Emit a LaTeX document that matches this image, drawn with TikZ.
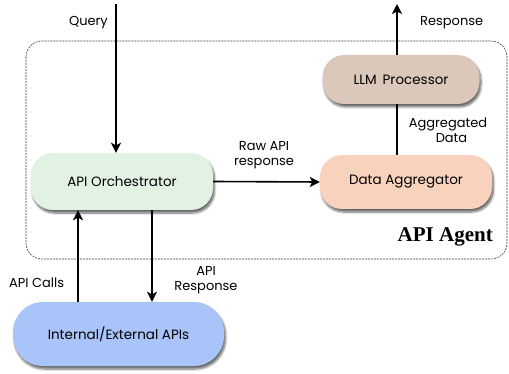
\documentclass[tikz,border=0pt]{standalone}
\usepackage{fontspec}
\setmainfont{Poppins}
\newfontfamily\agentfont{Liberation Serif}
\usetikzlibrary{arrows.meta,shadows.blur}
\definecolor{llmc}{HTML}{DCC8BA}
\definecolor{aggc}{HTML}{F8D2BC}
\definecolor{orchc}{HTML}{E2F2E2}
\definecolor{apic}{HTML}{A9C4F8}
\tikzset{
  pill/.style={rounded corners=22pt, minimum height=#1, inner sep=0pt, font=\fontsize{13.5}{15}\selectfont,
    blur shadow={shadow xshift=1.5pt, shadow yshift=-3pt, shadow blur steps=6, shadow opacity=60}},
  conn/.style={line width=1.6pt},
  arr/.style={conn, -{Stealth[length=10pt,width=10pt,inset=2.5pt]}},
  lbl/.style={font=\fontsize{13}{15.5}\selectfont, align=center, inner sep=0pt},
}
\begin{document}
\begin{tikzpicture}[x=1pt,y=-1pt]
\useasboundingbox (0,0) rectangle (509,374);
\draw[dash pattern=on 2pt off 1pt, line width=0.6pt, rounded corners=16pt, black!75] (26,41) rectangle (507,259);
\node[pill=49pt, minimum width=157pt, fill=llmc] (llm) at (401,79.5) {LLM\, Processor};
\node[pill=54pt, minimum width=172pt, fill=aggc] (agg) at (406,182) {Data Aggregator};
\node[pill=57pt, minimum width=182pt, fill=orchc] (orch) at (122,181.5) {API Orchestrator};
\node[pill=64pt, minimum width=211pt, rounded corners=30pt, fill=apic] (apis) at (118.5,334) {Internal/External APIs};
\coordinate (qtop) at (116,4);
\coordinate (rtop) at (397,4);
\draw[arr] (qtop) -- (qtop |- orch.north);
\draw[arr] (llm.north -| rtop) -- (rtop);
\draw[conn] (agg.north -| rtop) -- (llm.south -| rtop);
\draw[arr] (orch.east) -- (agg.west);
\draw[arr] (apis.north -| 78,0) -- (orch.south -| 78,0);
\draw[arr] (orch.south -| 152,0) -- (apis.north -| 152,0);
\node[lbl, anchor=east] (lq) at (108,23) {Query};
\node[lbl, anchor=west] (lr) at (420,23) {Response};
\node[lbl] (la) at (448,130) {Aggregated\\\hspace*{7pt}Data};
\node[lbl] (lraw) at (264,155) {Raw API\\response};
\node[lbl, anchor=west] (lc) at (9,283) {API Calls};
\node[lbl] (lresp) at (206,280) {API\\Response};
\node[font=\agentfont\bfseries\fontsize{21}{24}\selectfont, anchor=east, inner sep=0pt] (agent) at (493,237) {API Agent};
\end{tikzpicture}
\end{document}
